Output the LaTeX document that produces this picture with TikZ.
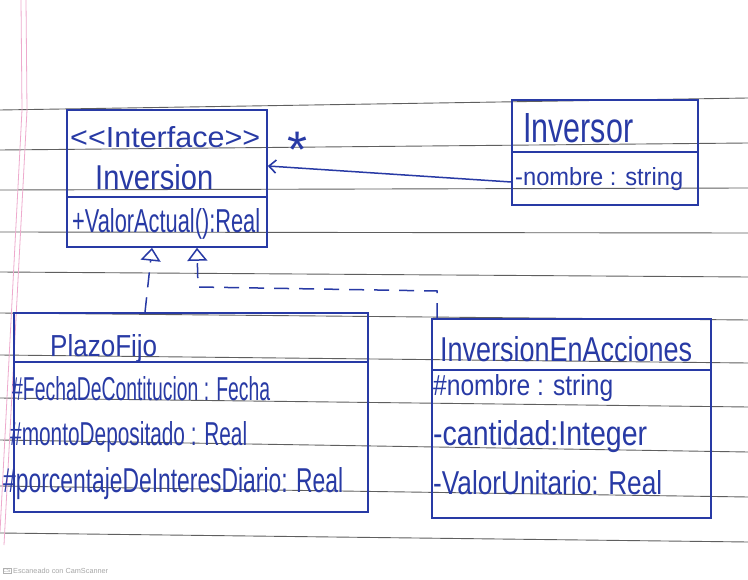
\documentclass[tikz,border=0pt]{standalone}
\usepackage{fontspec}
\newfontfamily\hand{Liberation Sans}
\usetikzlibrary{arrows.meta}
\definecolor{ink}{RGB}{40,58,165}
\definecolor{ruleink}{RGB}{95,95,95}
\definecolor{marginpink}{RGB}{238,170,205}
\newcommand{\fitw}[2]{\resizebox{#1pt}{!}{\hand #2}}
\newcommand{\fitwh}[3]{\resizebox{#1pt}{#2pt}{\hand #3}}
\begin{document}
\begin{tikzpicture}[x=1pt,y=-1pt,
  ruleline/.style={draw=ruleink, line width=0.9pt},
  marginline/.style={draw=marginpink, line width=0.8pt},
  umlbox/.style={draw=ink, line width=1.6pt, inner sep=0pt},
  divider/.style={draw=ink, line width=1.6pt},
  lbl/.style={text=ink, inner sep=0pt, anchor=base west},
  assoc/.style={draw=ink, line width=1.5pt, -{Straight Barb[length=7pt,width=13pt,line width=1.6pt]}},
  realiz/.style={draw=ink, line width=1.5pt, dash pattern=on 15pt off 10pt,
    -{Triangle[open,length=13pt,width=20pt,line width=1.5pt]}},
  scan/.style={text=black!35, inner sep=0pt}
]
\useasboundingbox (0,0) rectangle (748,580);
\fill[white] (0,0) rectangle (748,580);
% notebook ruling
\foreach \l/\r in {110/98,150/143,190/188,232/233,272/277,313/320,355/363,398/407,440/452,486/497,533/542}
  \draw[ruleline] (0,\l) -- (748,\r);
\draw[marginline] (21,0) -- (22,110) -- (0,532);
\draw[marginline] (26,0) -- (27,110) -- (4,545);

% boxes
\node[umlbox, minimum width=200pt, minimum height=137pt] (iface) at (167,178.5) {};
\draw[divider] (67,197) -- (267,197);
\node[umlbox, minimum width=186pt, minimum height=105pt] (inv) at (605,152.5) {};
\draw[divider] (512,152) -- (698,152);
\node[umlbox, minimum width=354pt, minimum height=199pt] (pf) at (191,412.5) {};
\draw[divider] (14,362) -- (368,362);
\node[umlbox, minimum width=279pt, minimum height=199pt] (iea) at (571.5,418.5) {};
\draw[divider] (432,370) -- (711,370);

% texts (base west anchors: x = left edge, y = baseline)
\node[lbl] (t1) at (70,148) {\fitwh{190}{21}{<\kern0pt<Interface>\kern0pt>}};
\node[lbl] (t2) at (95,190) {\fitwh{118}{25}{Inversion}};
\node[lbl] (t3) at (72,233) {\fitwh{188}{24}{+ValorActual():Real}};
\node[lbl] (t4) at (523,143) {\fitwh{110}{29}{Inversor}};
\node[lbl] (t5) at (515,186) {\fitwh{168}{18}{-nombre : string}};
\node[lbl] (t6) at (50,356) {\fitwh{107}{22}{PlazoFijo}};
\node[lbl] (t7) at (12,400) {\fitwh{258}{24}{\#FechaDeContitucion : Fecha}};
\node[lbl] (t8) at (10,446) {\fitwh{237}{24}{\#montoDepositado : Real}};
\node[lbl] (t9) at (3,493) {\fitwh{340}{25}{\#porcentajeDeInteresDiario: Real}};
\node[lbl] (t10) at (440,362) {\fitwh{252}{25}{InversionEnAcciones}};
\node[lbl] (t11) at (433,396) {\fitwh{180}{21}{\#nombre : string}};
\node[lbl] (t12) at (433,446) {\fitwh{214}{25}{-cantidad:Integer}};
\node[lbl] (t13) at (433,494) {\fitwh{229}{24}{-ValorUnitario: Real}};

% connectors
\draw[assoc] (inv.west |- 0,182) -- (iface.east |- 0,166);
\node[text=ink, inner sep=0pt] (mult) at (298,150) {\fitw{20}{*}};
\draw[realiz] (pf.north -| 145,0) -- (iface.south -| 152,0);
\coordinate (k1) at (437,291);
\coordinate (k2) at (198,287);
\draw[realiz] (iea.north -| 437,0) -- (k1) -- (k2) -- (iface.south -| 197,0);

% scanner mark
\node[draw=black!30, line width=0.4pt, inner sep=0.6pt, text=black!35] (cs) at (7,571) {\fitw{7}{CS}};
\node[scan, anchor=west] (cst) at (13,571) {\fitw{95}{Escaneado con CamScanner}};
\end{tikzpicture}
\end{document}
